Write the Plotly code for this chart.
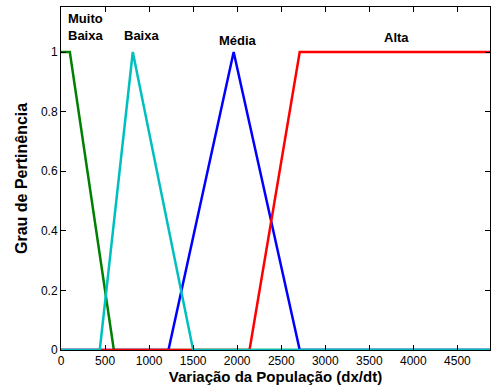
import plotly.graph_objects as go

# Membership functions (x breakpoints, membership degree)
mb_x = [0, 100, 600, 4870]
mb_y = [1, 1, 0, 0]
baixa_x = [0, 440, 815, 1500, 4870]
baixa_y = [0, 0, 1, 0, 0]
media_x = [0, 1220, 1960, 2710, 4870]
media_y = [0, 0, 1, 0, 0]
alta_x = [0, 2140, 2710, 4870]
alta_y = [0, 0, 1, 1]

labels = ["Muito<br>Baixa", "Baixa", "Média", "Alta"]
label_x = [283, 910, 2014, 3812]
label_y = [1.085, 1.057, 1.04, 1.05]

xticks = [0, 500, 1000, 1500, 2000, 2500, 3000, 3500, 4000, 4500]
yticks = [0, 0.2, 0.4, 0.6, 0.8, 1]

FONT = "Liberation Sans, Arial"

fig = go.Figure()
series = [
    (mb_x, mb_y, "#008000"),
    (media_x, media_y, "#0000ff"),
    (alta_x, alta_y, "#ff0000"),
    (baixa_x, baixa_y, "#00bfbf"),
]
for xs, ys, c in series:
    fig.add_trace(go.Scatter(x=xs, y=ys, mode="lines", cliponaxis=True,
                             line=dict(color=c, width=2.5), showlegend=False))

for t, xv, yv in zip(labels, label_x, label_y):
    fig.add_annotation(x=xv, y=yv, text="<b>" + t + "</b>", showarrow=False,
                       font=dict(family=FONT, size=13, color="black"))

# y-axis title as annotation for exact placement
fig.add_annotation(xref="paper", yref="paper", x=0, y=0.5, xshift=-39.5,
                   xanchor="center", yanchor="middle",
                   text="<b>Grau de Pertinência</b>", textangle=-90, showarrow=False,
                   font=dict(family=FONT, size=16, color="black"))

axis_common = dict(showline=True, linecolor="black", linewidth=1, mirror="ticks",
                   ticks="inside", ticklen=5, tickcolor="black", showgrid=False,
                   zeroline=False, automargin=False,
                   tickfont=dict(family=FONT, size=12, color="black"))

fig.update_xaxes(range=[0, 4870], tickvals=xticks, ticktext=[str(v) for v in xticks],
                 title=dict(text="<b>Variação da População (dx/dt)</b>",
                            font=dict(family=FONT, size=15, color="black"),
                            standoff=0),
                 **axis_common)
fig.update_yaxes(range=[0, 1.151], tickvals=yticks, ticktext=["0", "0.2", "0.4", "0.6", "0.8", "1"],
                 **axis_common)

fig.update_layout(width=491, height=392, margin=dict(l=61, r=1, t=7, b=42, autoexpand=False),
                  plot_bgcolor="white", paper_bgcolor="white")

fig.write_html("out.html", config={"displayModeBar": False},
               post_script="document.body.style.margin='0';document.body.style.overflow='hidden';")
